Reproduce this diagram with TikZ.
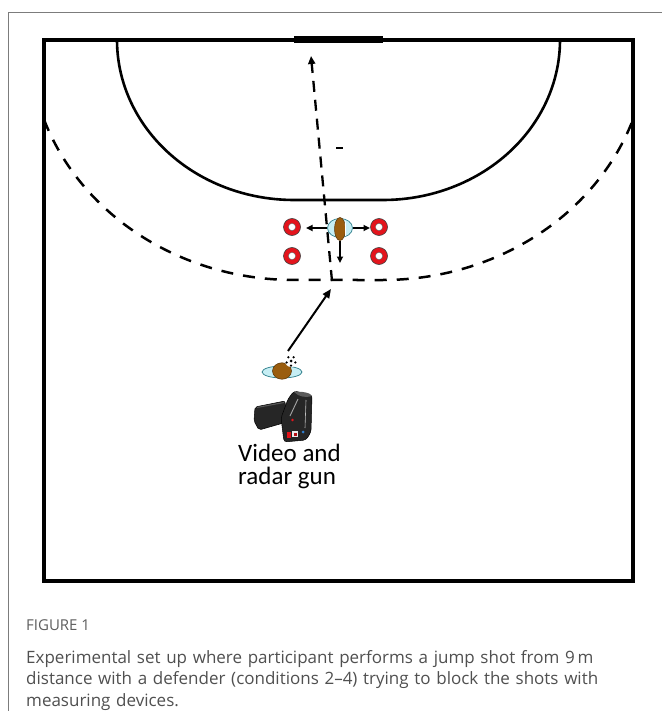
\documentclass[tikz,border=0pt]{standalone}
\usepackage{fontspec}
\setmainfont{Open Sans}
\newfontfamily\labelfont{Carlito}
\usetikzlibrary{arrows.meta,shapes.geometric}

\definecolor{ringred}{HTML}{E3141C}
\definecolor{skin}{HTML}{9A5D0E}
\definecolor{mat}{HTML}{C6EEF4}
\definecolor{matline}{HTML}{2E7F8C}
\definecolor{captiongray}{HTML}{505050}
\definecolor{labelgray}{HTML}{5E5E5E}
\definecolor{framegray}{HTML}{7C7C7C}
\definecolor{gunbody}{HTML}{262626}
\definecolor{gunshade}{HTML}{5A5A5A}
\definecolor{gunblue}{HTML}{2F7FD0}

\begin{document}
\begin{tikzpicture}[x=1pt,y=-1pt,
  court/.style={line width=3.2pt,line join=miter},
  goalarea/.style={line width=2.6pt},
  ninem/.style={line width=2.5pt,dash pattern=on 12pt off 10pt},
  shotpath/.style={line width=2.3pt,dash pattern=on 11pt off 8pt,
    -{Triangle[length=8pt,width=7pt]}},
  runup/.style={line width=2pt,-{Triangle[length=9pt,width=7.5pt]}},
  stepmove/.style={line width=1.6pt,-{Triangle[length=6.5pt,width=6pt]}},
  cone/.style={circle,fill=ringred,draw=black!75,line width=0.6pt,
    minimum size=17pt,inner sep=0pt,
    path picture={\filldraw[fill=white,draw=black!60,line width=0.4pt]
      (path picture bounding box.center) circle (3.6pt);}},
  playermat/.style={ellipse,fill=mat,draw=matline,line width=0.7pt,inner sep=0pt},
  playerbody/.style={ellipse,fill=skin,draw=skin!55!black,line width=0.5pt,inner sep=0pt}]

\useasboundingbox (0,0) rectangle (662,711);
\fill[white] (0,0) rectangle (662,711);

% figure frame
\draw[framegray,line width=1.2pt] (8.3,711) -- (8.3,12.6) -- (662,12.6);

% court outline and goal
\draw[court] (44,40) rectangle (633,581);
\draw[line width=7.5pt] (294,39.5) -- (383,39.5);

% 6 m goal-area line
\draw[goalarea] plot[domain=0:90,samples=60] ({294-177*cos(\x)},{40+160*sin(\x)})
  -- plot[domain=0:90,samples=60] ({383+177*sin(\x)},{40+160*cos(\x)});

% 9 m free-throw line
\draw[ninem] plot[domain=19.4:90,samples=60] ({294-265*cos(\x)},{40+240*sin(\x)})
  -- plot[domain=0:70.6,samples=60] ({383+265*sin(\x)},{40+240*cos(\x)});

% shot path towards the goal
\coordinate (jump) at (332,281);
\coordinate (aim) at (311,56);
\draw[shotpath] (jump) -- (aim);
\draw[line width=2pt] (336,148) -- (343,148);

% cones
\node[cone] (coneA) at (292,227) {};
\node[cone] (coneB) at (379,227) {};
\node[cone] (coneC) at (292,256) {};
\node[cone] (coneD) at (379,256) {};

% defender
\node[playermat,minimum width=25pt,minimum height=19pt] (defmat) at (340,228) {};
\node[playerbody,minimum width=11pt,minimum height=23pt] (defender) at (340,229) {};
\draw[white,line width=0.8pt] (345.3,221) -- (345.6,236);
\coordinate (stepL) at (306,228);
\coordinate (stepR) at (370,228);
\coordinate (stepD) at (340,263);
\draw[stepmove] (defmat.west) -- (stepL);
\draw[stepmove] (defmat.east) -- (stepR);
\draw[stepmove] (defender.south) -- (stepD);

% attacker with ball
\node[playermat,minimum width=40pt,minimum height=12pt] (attmat) at (282,372) {};
\node[playerbody,minimum width=19pt,minimum height=16.5pt] (attacker) at (282,371) {};
\node[circle,fill=white,minimum size=12pt,inner sep=0pt] (ball) at (291,361) {};
\foreach \a in {90,162,234,306,18}
  \fill (ball.center) ++(\a:4.6) circle (1.25pt);
\fill (ball.center) circle (1.5pt);
\coordinate (takeoff) at (288,351);
\coordinate (release) at (331,289);
\draw[runup] (takeoff) -- (release);

% hand-held video camera / radar gun
\filldraw[fill=gunbody,draw=black,line width=0.5pt,rounded corners=2pt]
  (255,407) -- (285,401) -- (287,422) -- (259,430) -- (254,421) -- cycle;
\draw[gunshade,line width=1pt] (257,407.5) -- (284,402.5);
\filldraw[fill=gunbody,draw=black,line width=0.5pt,rounded corners=3pt]
  (294,391) -- (312,395) -- (311,432) -- (306,440) -- (284,442) -- (281,418) -- (288,399) -- cycle;
\fill[gunshade] (294,392) .. controls (302,391) and (311,393) .. (312,396)
  .. controls (306,398) and (299,397) .. (294,392) -- cycle;
\draw[gray!70,line width=0.9pt] (298,399) -- (290,416);
\draw[gray!50,line width=0.6pt] (306,400) -- (305,428);
\fill[ringred] (292.5,420) circle (1.4pt);
\fill[ringred] (287,432) rectangle (291,438);
\fill[white!85!gray] (292,431) rectangle (298,437);
\fill[ringred!80!black] (293.5,432.5) rectangle (296.5,435.5);
\fill[gunblue] (303,432) circle (1.5pt);

\node[anchor=north west,inner sep=0pt,align=left,
  font=\labelfont\fontsize{25}{23}\selectfont] (devices) at (238,444) {Video and\\radar gun};

% caption
\node[anchor=base west,inner sep=0pt,text=labelgray,
  font=\fontsize{15}{17}\selectfont] (figno) at (26,630) {FIGURE 1};
\node[anchor=north west,inner sep=0pt,text width=626pt,align=left,text=captiongray,
  font=\fontsize{17}{21.5}\selectfont] (caption) at (26,650)
  {\makebox[\linewidth][s]{Experimental set up where participant performs a jump shot from 9\,m}\\
   \makebox[\linewidth][s]{distance with a defender (conditions 2–4) trying to block the shots with}\\
   measuring devices.};
\end{tikzpicture}
\end{document}
